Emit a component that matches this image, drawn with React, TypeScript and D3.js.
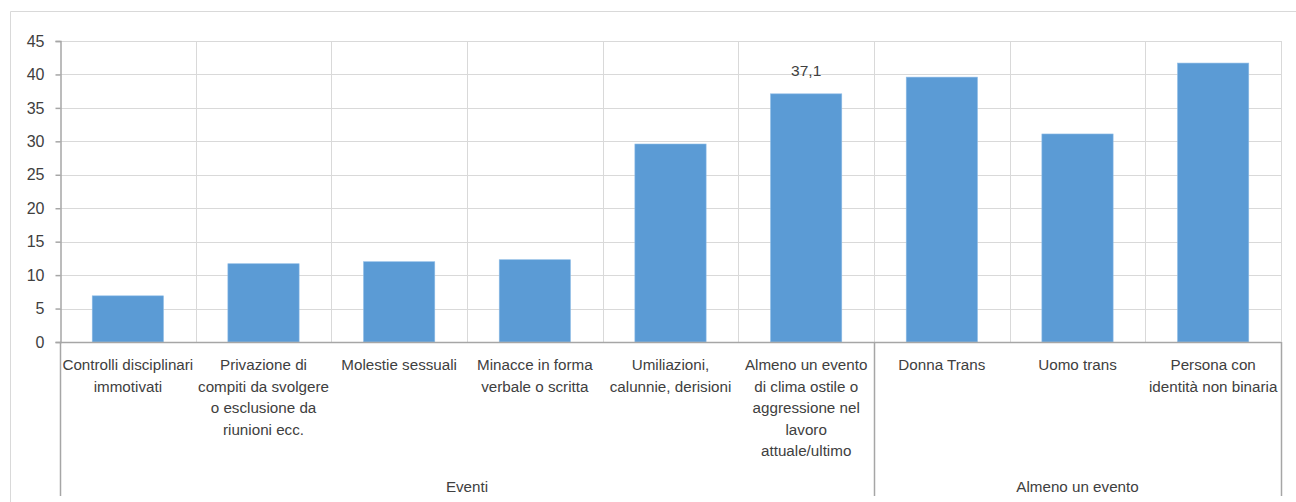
import React, { useEffect, useRef } from 'react';
import * as d3 from 'd3';

// category labels, already split on the lines used in the original
const categories: string[][] = [
  ['Controlli disciplinari', 'immotivati'],
  ['Privazione di', 'compiti da svolgere', 'o esclusione da', 'riunioni ecc.'],
  ['Molestie sessuali'],
  ['Minacce in forma', 'verbale o scritta'],
  ['Umiliazioni,', 'calunnie, derisioni'],
  ['Almeno un evento', 'di clima ostile o', 'aggressione nel', 'lavoro', 'attuale/ultimo'],
  ['Donna Trans'],
  ['Uomo trans'],
  ['Persona con', 'identità non binaria'],
];
const values = [6.9, 11.7, 12.0, 12.3, 29.6, 37.1, 39.6, 31.1, 41.7];
const labelled = [5]; // only this bar carries a value label
const groups = [
  { name: 'Eventi', from: 0, to: 5 },
  { name: 'Almeno un evento', from: 6, to: 8 },
];
const yTicks = [0, 5, 10, 15, 20, 25, 30, 35, 40, 45];

const W = 1296;
const H = 502;
const FONT = '"Liberation Sans", Arial, sans-serif';

export default function App() {
  const svgRef = useRef<SVGSVGElement>(null);

  useEffect(() => {
    const svg = d3.select(svgRef.current);
    svg.selectAll('*').remove();

    const m = { left: 60, right: 15, top: 41, bottom: 160 };
    const plotBottom = H - m.bottom; // 342

    const x = d3.scaleBand<number>()
      .domain(d3.range(categories.length))
      .range([m.left, W - m.right])
      .paddingInner(0)
      .paddingOuter(0);

    const y = d3.scaleLinear().domain([0, 45]).range([plotBottom, m.top]);

    // chart frame (top and left edges only are visible)
    svg.append('path')
      .attr('d', `M10.5,${H}V11.5H${W}`)
      .attr('fill', 'none')
      .attr('stroke', '#d9d9d9');

    // horizontal gridlines
    svg.append('g')
      .selectAll('line')
      .data(yTicks.filter(d => d > 0))
      .join('line')
      .attr('x1', m.left).attr('x2', W - m.right)
      .attr('y1', d => Math.round(y(d)) + 0.5).attr('y2', d => Math.round(y(d)) + 0.5)
      .attr('stroke', '#d9d9d9');

    // vertical gridlines between categories
    svg.append('g')
      .selectAll('line')
      .data(d3.range(1, categories.length + 1))
      .join('line')
      .attr('x1', d => Math.round(x(d - 1)! + x.bandwidth()) + 0.5)
      .attr('x2', d => Math.round(x(d - 1)! + x.bandwidth()) + 0.5)
      .attr('y1', m.top).attr('y2', plotBottom)
      .attr('stroke', '#d9d9d9');

    // bars
    const bw = x.bandwidth() * 0.525;
    svg.append('g')
      .selectAll('rect')
      .data(values)
      .join('rect')
      .attr('x', (d, i) => x(i)! + (x.bandwidth() - bw) / 2)
      .attr('y', d => y(d))
      .attr('width', bw)
      .attr('height', d => plotBottom - y(d))
      .attr('fill', '#5b9bd5')
      .attr('stroke', '#8cbbe6')
      .attr('stroke-width', 0.6);

    // value label
    svg.append('g')
      .selectAll('text')
      .data(labelled)
      .join('text')
      .attr('x', i => x(i)! + x.bandwidth() / 2)
      .attr('y', i => y(values[i]) - 18)
      .attr('text-anchor', 'middle')
      .attr('font-family', FONT)
      .attr('font-size', 15.5)
      .attr('fill', '#404040')
      .text(i => String(values[i]).replace('.', ','));

    // y axis
    const yAxis = svg.append('g')
      .attr('transform', `translate(${m.left + 0.5},0)`)
      .call(d3.axisLeft(y).tickValues(yTicks).tickSize(5).tickPadding(11));
    yAxis.select('.domain').attr('stroke', '#a6a6a6').attr('stroke-width', 1.5);
    yAxis.selectAll('.tick line').attr('stroke', '#a6a6a6').attr('stroke-width', 1.5);
    yAxis.selectAll('.tick text')
      .attr('font-family', FONT)
      .attr('font-size', 16)
      .attr('fill', '#404040');

    // category axis line
    svg.append('line')
      .attr('x1', m.left).attr('x2', W - m.right)
      .attr('y1', plotBottom + 0.5).attr('y2', plotBottom + 0.5)
      .attr('stroke', '#a6a6a6').attr('stroke-width', 1.5);

    // group separators
    const sepBottom = 496;
    const seps = [m.left, ...groups.map(g => x(g.to)! + x.bandwidth())];
    svg.append('g')
      .selectAll('line')
      .data(seps)
      .join('line')
      .attr('x1', d => Math.round(d) + 0.5).attr('x2', d => Math.round(d) + 0.5)
      .attr('y1', plotBottom).attr('y2', sepBottom)
      .attr('stroke', '#a6a6a6').attr('stroke-width', 1.5);

    // category labels
    const lab = svg.append('g')
      .selectAll('text')
      .data(categories)
      .join('text')
      .attr('text-anchor', 'middle')
      .attr('font-family', FONT)
      .attr('font-size', 15.2)
      .attr('fill', '#404040')
      .attr('transform', (d, i) => `translate(${x(i)! + x.bandwidth() / 2},${plotBottom + 28})`);
    lab.selectAll('tspan')
      .data(d => d)
      .join('tspan')
      .attr('x', 0)
      .attr('y', (d, j) => j * 21.5)
      .text(d => d);

    // group labels
    svg.append('g')
      .selectAll('text')
      .data(groups)
      .join('text')
      .attr('x', g => (x(g.from)! + x(g.to)! + x.bandwidth()) / 2)
      .attr('y', 492)
      .attr('text-anchor', 'middle')
      .attr('font-family', FONT)
      .attr('font-size', 15.2)
      .attr('fill', '#404040')
      .text(g => g.name);
  }, []);

  return (
    <div>
      <style>{'body{margin:0}'}</style>
      <svg ref={svgRef} width={W} height={H} style={{ display: 'block' }} />
    </div>
  );
}
